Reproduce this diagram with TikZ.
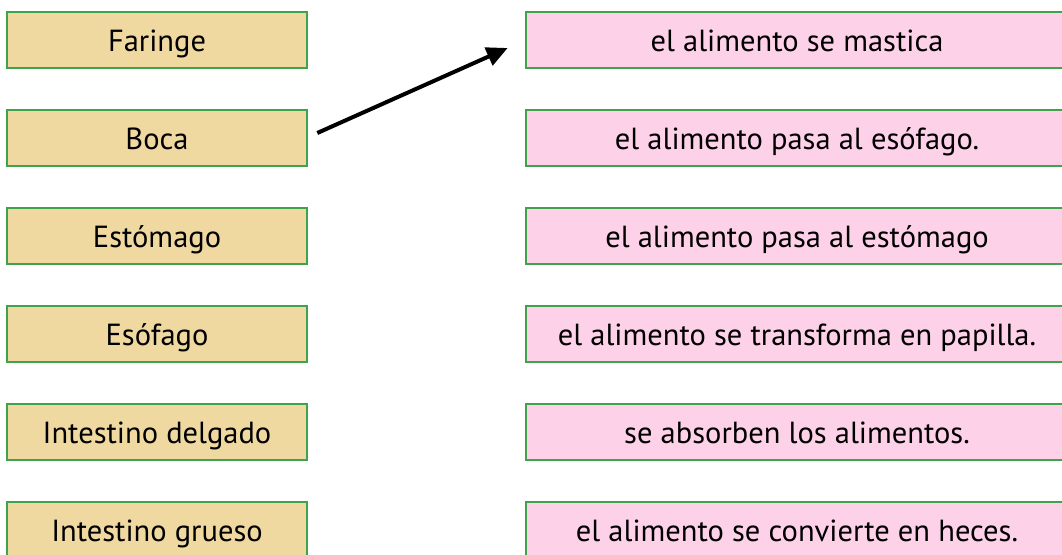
\documentclass[tikz,border=0pt]{standalone}
\usepackage{fontspec}
\setmainfont{PT Sans}
\usepackage{tikz}
\usetikzlibrary{calc,arrows.meta}
\definecolor{boxgreen}{HTML}{3FA34D}
\definecolor{organfill}{HTML}{EFD9A1}
\definecolor{actionfill}{HTML}{FDD1E8}

\begin{document}
\begin{tikzpicture}[x=1pt,y=1pt,
	organ/.style={draw=boxgreen,line width=2.6pt,fill=organfill,minimum width=300pt,minimum height=56pt,inner sep=0pt,text height=23.5pt,text depth=0pt,font=\fontsize{30.5}{33}\selectfont},
	action/.style={organ,fill=actionfill,minimum width=542pt}]
	\useasboundingbox (0,0) rectangle (1062,554);
	\clip (0,0) rectangle (1062,554);
	\node[organ] (faringe) at (157,514) {Faringe};
	\node[organ] (boca) at (157,416) {Boca};
	\node[organ] (estomago) at (157,318) {Estómago};
	\node[organ] (esofago) at (157,220) {Esófago};
	\node[organ] (delgado) at (157,122) {Intestino delgado};
	\node[organ] (grueso) at (157,24) {Intestino grueso};
	\node[action] (mastica) at (797,514) {el alimento se mastica};
	\node[action] (pasaeso) at (797,416) {el alimento pasa al esófago.};
	\node[action] (pasaest) at (797,318) {el alimento pasa al estómago};
	\node[action] (papilla) at (797,220) {el alimento se transforma en papilla.};
	\node[action] (absorben) at (797,122) {se absorben los alimentos.};
	\node[action] (heces) at (797,24) {el alimento se convierte en heces.};
	\draw[-{Triangle[length=21pt,width=19pt]},line width=4pt] ([shift={(9,5)}]boca.east) -- ([shift={(-17,-8)}]mastica.west);
\end{tikzpicture}
\end{document}
